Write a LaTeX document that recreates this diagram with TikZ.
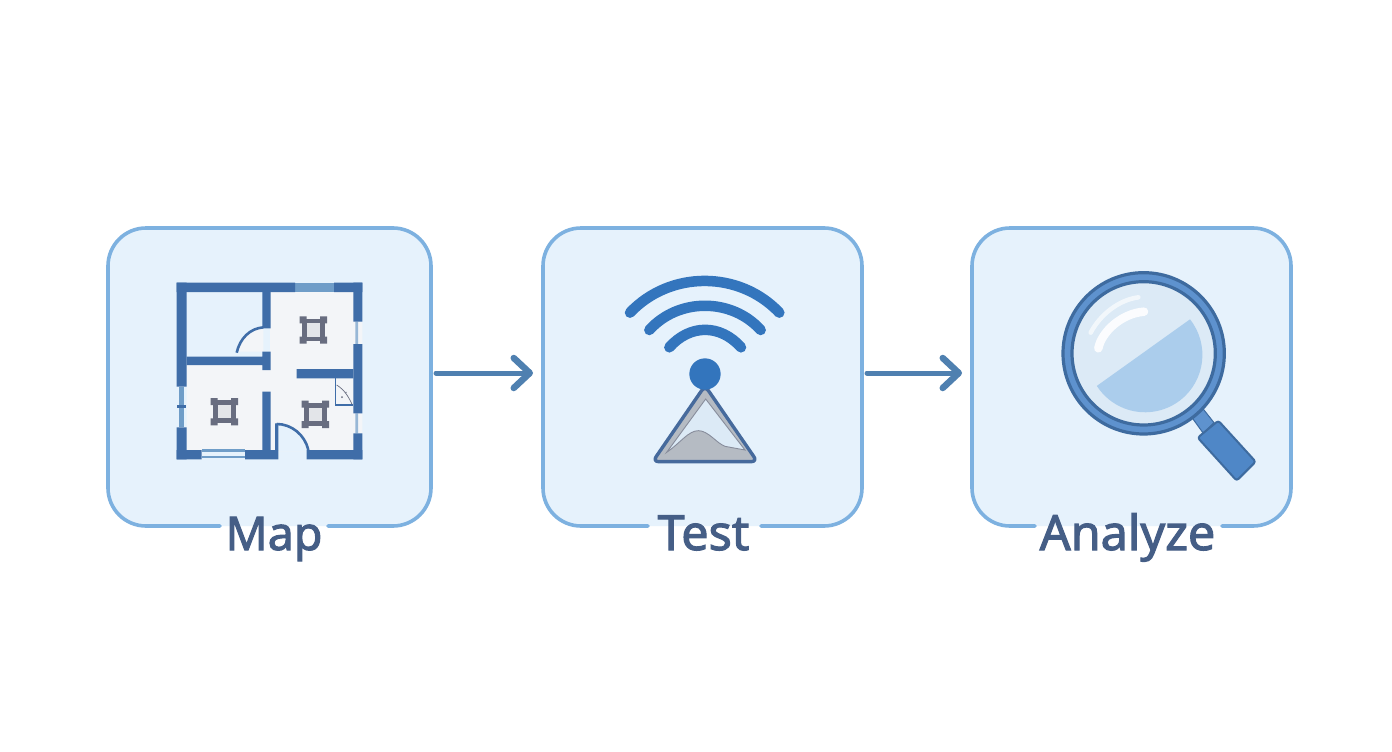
\documentclass[tikz,border=0pt]{standalone}
\usepackage{fontspec}
\setmainfont{Noto Sans}
\newfontfamily\labelfont[RawFeature={embolden=2.2}]{Noto Sans}
\usetikzlibrary{arrows.meta,calc}
\definecolor{boxfill}{HTML}{E6F2FC}
\definecolor{boxline}{HTML}{7DB1E0}
\definecolor{labelc}{HTML}{455E86}
\definecolor{arrowc}{HTML}{4F80B0}
\definecolor{wall}{HTML}{3F6DA8}
\definecolor{roomc}{HTML}{F3F5F8}
\definecolor{winc}{HTML}{6F9DC8}
\definecolor{furn}{HTML}{686D80}
\definecolor{furnin}{HTML}{E3E5E9}
\definecolor{wifi}{HTML}{3375BD}
\definecolor{triline}{HTML}{466A9C}
\definecolor{trigray}{HTML}{B5BBC3}
\definecolor{lens}{HTML}{DCEAF6}
\definecolor{lensdark}{HTML}{ABCDEC}
\definecolor{ringc}{HTML}{5E92CE}
\definecolor{ringd}{HTML}{3E6B9F}
\definecolor{gripc}{HTML}{4F87C7}
\tikzset{
  stagebox/.style={rounded corners=38pt,fill=boxfill,draw=none,minimum height=298pt,inner sep=0pt,outer sep=0pt},
  edgeline/.style={draw=boxline,line width=3.6pt,line cap=round},
  steplabel/.style={text=labelc,font=\labelfont\fontsize{46.5}{46.5}\selectfont,inner sep=0pt,anchor=base},
  widelabel/.style={steplabel,font=\labelfont\fontsize{48.5}{48.5}\selectfont},
  flow/.style={draw=arrowc,line width=5pt,line cap=round,-{Straight Barb[length=16pt,width=30pt,line width=6.5pt,round]}},
  wallfill/.style={fill=wall,draw=none},
  icon/.style={x=1pt,y=-1pt,xscale=1/3,yscale=1/3}
}
\newcommand{\furniture}[2]{%
  \begin{scope}[shift={(#1,#2)}]
    \fill[furn] (-41,-41) rectangle (-20,-20) (20,-41) rectangle (41,-20) (-41,20) rectangle (-20,41) (20,20) rectangle (41,41);
    \fill[furn] (-34,-34) rectangle (34,34);
    \fill[furnin] (-20,-20) rectangle (20,20);
  \end{scope}}
\begin{document}
\begin{tikzpicture}[x=1pt,y=-1pt]
\useasboundingbox (0,0) rectangle (1392,752);
\fill[white] (0,0) rectangle (1392,752);
% boxes
\node[stagebox,minimum width=323pt] (map) at (269.5,377) {};
\node[stagebox,minimum width=319pt] (test) at (702.5,377) {};
\node[stagebox,minimum width=319pt] (analyze) at (1131.5,377) {};
% borders with gaps for labels
\draw[edgeline,rounded corners=38pt] (328,526) -- (431,526) -- (431,228) -- (108,228) -- (108,526) -- (220,526);
\draw[edgeline,rounded corners=38pt] (761,526) -- (862,526) -- (862,228) -- (543,228) -- (543,526) -- (648,526);
\draw[edgeline,rounded corners=38pt] (1222,526) -- (1291,526) -- (1291,228) -- (972,228) -- (972,526) -- (1035,526);
% labels
\node[steplabel] (lmap) at (274,550) {Map};
\node[widelabel] (ltest) at (703.5,550) {Test};
\node[widelabel] (lanalyze) at (1127.5,550) {Analyze};
% arrows
\draw[flow] ([xshift=5pt,yshift=4pt]map.east) -- ([xshift=-10pt,yshift=4pt]test.west);
\draw[flow] ([xshift=5pt,yshift=4pt]test.east) -- ([xshift=-10pt,yshift=4pt]analyze.west);
% floor plan
\begin{scope}[shift={(160,270)},icon]
  \fill[roomc] (330,60) rectangle (585,300) (80,285) rectangle (330,545) (330,295) rectangle (585,545);
  \fill[roomc] (230,245) -- (232,235) .. controls (245,200) and (275,175) .. (310,172) -- (310,245) -- cycle;
  \fill[boxfill] (352,462) .. controls (395,462) and (435,495) .. (445,545) -- (352,545) -- cycle;
  % windows
  \fill[winc] (405,38) rectangle (522,66);
  \fill[roomc] (580,155) rectangle (607,222) (580,430) rectangle (607,490);
  \fill[winc!70!roomc] (586,155) rectangle (594,222) (586,430) rectangle (594,490);
  \fill[winc] (58,350) rectangle (72,472);
  \fill[wall] (50,405) rectangle (78,414);
  \fill[winc] (125,538) rectangle (255,546);
  \fill[winc] (125,558) rectangle (255,564);
  % walls
  \fill[wallfill] (50,38) rectangle (405,66) (522,38) rectangle (607,66);
  \fill[wallfill] (50,38) rectangle (80,350) (50,472) rectangle (80,568);
  \fill[wallfill] (50,540) rectangle (125,568) (255,540) rectangle (355,568) (440,540) rectangle (607,568);
  \fill[wallfill] (580,38) rectangle (607,155) (580,222) rectangle (607,430) (580,490) rectangle (607,568);
  \fill[wallfill] (307,66) rectangle (332,175) (307,245) rectangle (332,300) (80,260) rectangle (307,285);
  \fill[wallfill] (410,297) rectangle (580,325) (307,365) rectangle (332,540) (345,460) rectangle (355,540);
  % door swings
  \draw[wall,line width=2.6pt] (230,248) .. controls (240,205) and (270,175) .. (310,172);
  \draw[wall,line width=2.6pt] (350,462) .. controls (395,462) and (435,495) .. (445,540);
  % closet
  \fill[roomc] (527,343) rectangle (580,405);
  \draw[wall,line width=1.6pt] (527,325) -- (527,405) -- (580,405);
  \draw[furn,line width=.7pt] (530,345) .. controls (555,360) and (568,385) .. (576,403);
  \fill[furn] (546,381) circle (3) (558,367) circle (2);
  \furniture{460}{180}
  \furniture{193}{425}
  \furniture{466}{433}
\end{scope}
% wifi and mast
\begin{scope}[shift={(610,265)},icon]
  \begin{scope}[line cap=round,draw=wifi,line width=10.5pt]
    \draw (60,143) .. controls (180,16) and (388,16) .. (508,143);
    \draw (118,195) .. controls (205,98) and (365,98) .. (452,195);
    \draw (178,247) .. controls (240,177) and (331,177) .. (393,247);
  \end{scope}
  \fill[trigray,draw=triline,line width=3.4pt,line join=round,rounded corners=6pt]
     (285,362) -- (442,590) -- (128,590) -- cycle;
  \fill[lens,draw=furn!60!trigray,line width=.9pt] (287,402) -- (405,555) -- (345,544)
     .. controls (320,535) and (295,497) .. (265,497)
     .. controls (235,497) and (210,535) .. (170,562) -- cycle;
  \fill[wifi] (285,327) circle (47);
\end{scope}
% magnifier
\begin{scope}[shift={(1050,260)},icon]
  \fill[ringc,draw=ringd,line width=1pt] (424,470) -- (458,445) -- (492,488) -- (460,520) -- cycle;
  \fill[gripc,draw=ringd,line width=2pt,line join=round,rounded corners=2.5pt]
     (443,533) -- (505,482) -- (617,605) -- (560,662) -- cycle;
  \fill[lens] (281,280) circle (215);
  \fill[lensdark] (420,178) arc[start angle=-38.4,end angle=147.3,radius=172] -- cycle;
  \draw[white,opacity=.65,line width=4.5pt,line cap=round] (122,218) .. controls (150,165) and (205,120) .. (265,112);
  \draw[white,opacity=.9,line width=8.5pt,line cap=round] (145,265) .. controls (155,215) and (215,160) .. (282,155);
  \draw[ringc,line width=9.5pt] (281,280) circle (229);
  \draw[ringd,line width=3.2pt] (281,280) circle (242);
  \draw[ringd,line width=3.2pt] (281,280) circle (215);
\end{scope}
\end{tikzpicture}
\end{document}
